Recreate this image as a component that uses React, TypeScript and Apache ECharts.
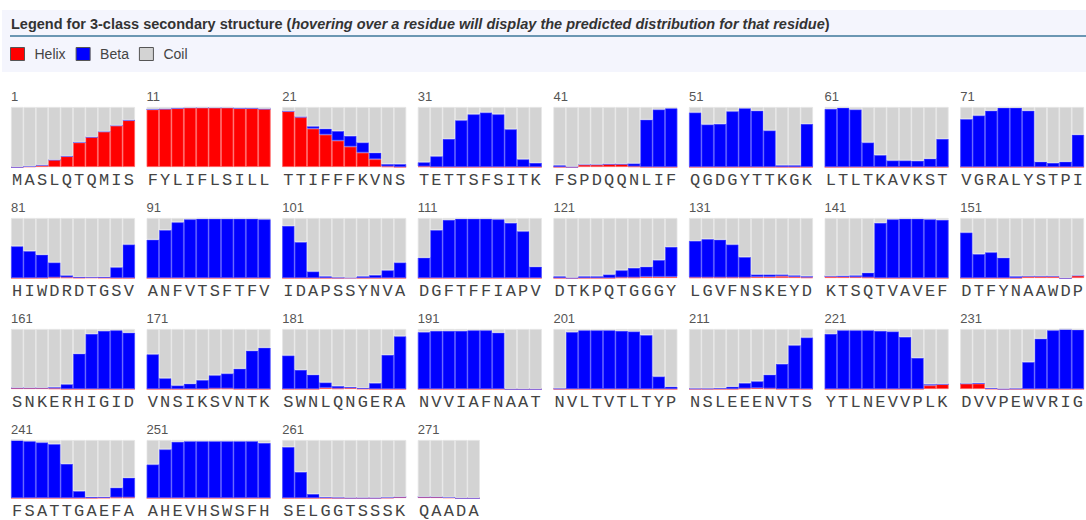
import { useEffect, useRef } from "react";
import * as echarts from "echarts";

const blockStarts = [1, 11, 21, 31, 41, 51, 61, 71, 81, 91, 101, 111, 121, 131, 141, 151, 161, 171, 181, 191, 201, 211, 221, 231, 241, 251, 261, 271];

const residues = [
  "MASLQTQMIS", "FYLIFLSILL", "TTIFFFKVNS", "TETTSFSITK", "FSPDQQNLIF", "QGDGYTTKGK", "LTLTKAVKST", "VGRALYSTPI",
  "HIWDRDTGSV", "ANFVTSFTFV", "IDAPSSYNVA", "DGFTFFIAPV", "DTKPQTGGGY", "LGVFNSKEYD", "KTSQTVAVEF", "DTFYNAAWDP",
  "SNKERHIGID", "VNSIKSVNTK", "SWNLQNGERA", "NVVIAFNAAT", "NVLTVTLTYP", "NSLEEENVTS", "YTLNEVVPLK", "DVVPEWVRIG",
  "FSATTGAEFA", "AHEVHSWSFH", "SELGGTSSSK", "QAADA",
];

const helix = [
  [0, 0.01, 0.03, 0.12, 0.18, 0.41, 0.5, 0.59, 0.69, 0.78],
  [0.96, 0.97, 0.98, 0.99, 0.99, 0.99, 0.99, 0.98, 0.98, 0.97],
  [0.93, 0.83, 0.64, 0.54, 0.44, 0.34, 0.24, 0.13, 0.01, 0],
  [0.01, 0, 0, 0, 0, 0, 0, 0, 0, 0],
  [0, 0, 0.04, 0.04, 0.05, 0.05, 0.01, 0, 0, 0],
  [0, 0, 0, 0, 0, 0, 0, 0, 0, 0],
  [0, 0, 0, 0, 0, 0, 0, 0, 0, 0],
  [0, 0, 0, 0, 0, 0, 0, 0, 0, 0],
  [0, 0, 0, 0.01, 0.01, 0.005, 0.01, 0.005, 0, 0],
  [0, 0, 0, 0, 0, 0, 0, 0, 0, 0],
  [0, 0, 0, 0, 0, 0.005, 0, 0, 0, 0],
  [0, 0, 0, 0, 0, 0, 0, 0, 0, 0],
  [0, 0, 0, 0, 0, 0.01, 0.01, 0.02, 0.02, 0.02],
  [0.01, 0.01, 0.01, 0.01, 0.01, 0.02, 0.02, 0.03, 0.02, 0.01],
  [0.03, 0.02, 0.015, 0.01, 0, 0, 0, 0, 0, 0],
  [0, 0, 0, 0, 0, 0.03, 0.03, 0.03, 0, 0.04],
  [0.02, 0.02, 0.02, 0.01, 0, 0, 0, 0, 0, 0],
  [0, 0, 0, 0, 0, 0.01, 0.01, 0, 0, 0],
  [0, 0, 0, 0.02, 0.01, 0.015, 0.005, 0, 0, 0],
  [0, 0, 0, 0, 0, 0, 0, 0, 0, 0],
  [0, 0, 0, 0, 0, 0, 0, 0, 0, 0],
  [0, 0, 0, 0, 0.01, 0.015, 0.01, 0, 0, 0],
  [0, 0, 0, 0, 0, 0, 0, 0, 0.06, 0.08],
  [0.09, 0.09, 0.005, 0, 0, 0, 0, 0, 0, 0],
  [0, 0, 0, 0, 0, 0, 0, 0.005, 0.01, 0.01],
  [0, 0, 0, 0, 0, 0, 0, 0, 0, 0],
  [0, 0, 0, 0, 0, 0, 0, 0, 0.005, 0.02],
  [0.02, 0.02, 0.01, 0, 0],
];

const beta = [
  [0, 0, 0, 0, 0, 0, 0, 0, 0, 0],
  [0, 0, 0, 0, 0, 0, 0, 0, 0, 0],
  [0, 0.01, 0.04, 0.1, 0.16, 0.18, 0.17, 0.11, 0.04, 0.05],
  [0.07, 0.18, 0.47, 0.78, 0.88, 0.91, 0.88, 0.63, 0.13, 0.07],
  [0.03, 0.005, 0, 0, 0, 0, 0.05, 0.79, 0.96, 0.98],
  [0.91, 0.71, 0.72, 0.93, 0.98, 0.94, 0.61, 0.03, 0.03, 0.72],
  [0.97, 0.99, 0.96, 0.41, 0.2, 0.11, 0.11, 0.105, 0.14, 0.47],
  [0.8, 0.86, 0.94, 0.99, 0.99, 0.94, 0.09, 0.07, 0.09, 0.54],
  [0.53, 0.45, 0.39, 0.25, 0.035, 0.015, 0.005, 0.015, 0.18, 0.56],
  [0.64, 0.8, 0.93, 0.98, 0.99, 0.99, 0.99, 0.99, 0.99, 0.98],
  [0.87, 0.6, 0.11, 0.03, 0.01, 0, 0.03, 0.05, 0.13, 0.26],
  [0.34, 0.8, 0.97, 0.99, 0.99, 0.99, 0.98, 0.92, 0.78, 0.19],
  [0.03, 0.005, 0.03, 0.03, 0.06, 0.12, 0.16, 0.17, 0.28, 0.5],
  [0.61, 0.64, 0.63, 0.55, 0.34, 0.04, 0.04, 0.03, 0.025, 0.02],
  [0, 0.02, 0.03, 0.08, 0.92, 0.98, 0.99, 0.99, 0.98, 0.97],
  [0.76, 0.4, 0.43, 0.34, 0.03, 0, 0, 0, 0, 0],
  [0, 0, 0, 0.02, 0.08, 0.59, 0.92, 0.97, 0.98, 0.94],
  [0.58, 0.18, 0.06, 0.09, 0.15, 0.22, 0.25, 0.34, 0.64, 0.69],
  [0.56, 0.32, 0.24, 0.09, 0.04, 0.02, 0.015, 0.1, 0.57, 0.88],
  [0.95, 0.97, 0.97, 0.97, 0.98, 0.98, 0.94, 0, 0, 0],
  [0.01, 0.95, 0.98, 0.98, 0.98, 0.97, 0.96, 0.9, 0.21, 0.04],
  [0.01, 0.01, 0.015, 0.04, 0.09, 0.115, 0.23, 0.42, 0.73, 0.86],
  [0.92, 0.98, 0.98, 0.98, 0.97, 0.96, 0.87, 0.52, 0.02, 0],
  [0, 0.01, 0.01, 0.005, 0.01, 0.45, 0.84, 0.98, 1.0, 0.99],
  [1.0, 0.98, 0.96, 0.93, 0.59, 0.12, 0.02, 0.015, 0.17, 0.34],
  [0.58, 0.84, 0.97, 0.98, 0.98, 0.98, 0.98, 0.98, 0.98, 0.95],
  [0.88, 0.45, 0.07, 0.015, 0.01, 0.005, 0.005, 0.005, 0.005, 0],
  [0, 0, 0, 0, 0],
];

const classNames = ["Helix", "Beta", "Coil"];
const classColors: Record<string, string> = { Helix: "#ff0000", Beta: "#0000ff", Coil: "#d3d3d3" };
const classEdges: Record<string, string> = { Helix: "#ff5c5c", Beta: "#4848ff", Coil: "#e4e4e4" };

const titleMain = "Legend for 3-class secondary structure (";
const titleItalic = "hovering over a residue will display the predicted distribution for that residue";

export default function App() {
  const ref = useRef<HTMLDivElement>(null);
  useEffect(() => {
    const chart = echarts.init(ref.current!, null, { renderer: "svg" });
    const grids: any[] = [];
    const xAxes: any[] = [];
    const yAxes: any[] = [];
    const series: any[] = [];
    const numberLabels: any[] = [];
    const colStep = 135.6;
    const rowStep = 111;
    const barW = 12.4;
    residues.forEach((seq, i) => {
      const letters = seq.split("");
      const row = Math.floor(i / 8);
      const col = i % 8;
      const left = 11 + col * colStep;
      const top = 107 + row * rowStep;
      grids.push({ left, top, width: letters.length * barW, height: 60 });
      xAxes.push({
        type: "category",
        gridIndex: i,
        data: letters,
        axisTick: { show: false },
        axisLine: { show: false },
        axisLabel: {
          interval: 0,
          margin: 5,
          fontFamily: "'Courier New', 'Liberation Mono', monospace",
          fontSize: 17,
          color: "#444",
        },
      });
      yAxes.push({ type: "value", gridIndex: i, min: 0, max: 1, show: false });
      const h = helix[i];
      const b = beta[i];
      const c = h.map((v, k) => Math.max(0, +(1 - v - b[k]).toFixed(3)));
      const dataByClass: Record<string, number[]> = { Helix: h, Beta: b, Coil: c };
      classNames.forEach((name) => {
        series.push({
          type: "bar",
          name,
          xAxisIndex: i,
          yAxisIndex: i,
          stack: "s" + i,
          data: dataByClass[name],
          barCategoryGap: "0%",
          itemStyle: { color: classColors[name], borderColor: classEdges[name], borderWidth: 0.8 },
        });
      });
      numberLabels.push({
        type: "text",
        x: left,
        y: top - 11,
        style: { text: String(blockStarts[i]), fill: "#555", font: "13px Arial", verticalAlign: "middle" },
      });
    });

    chart.setOption({
      animation: false,
      backgroundColor: "#ffffff",
      legend: {
        data: classNames.map((n) => ({ name: n, itemStyle: { color: classColors[n] } })),
        left: 5,
        top: 42,
        icon: "rect",
        itemWidth: 14,
        itemHeight: 13,
        itemGap: 10,
        selectedMode: false,
        itemStyle: { borderColor: "#555", borderWidth: 1 },
        textStyle: { fontSize: 14, color: "#444", fontFamily: "Arial", padding: [0, 0, 0, 5] },
      },
      grid: grids,
      xAxis: xAxes,
      yAxis: yAxes,
      series,
      graphic: [
        {
          type: "rect",
          z: -10,
          shape: { x: 2, y: 10, width: 1084, height: 62 },
          style: { fill: "#f4f5fd" },
        },
        {
          type: "line",
          shape: { x1: 10, y1: 36, x2: 1086, y2: 36 },
          style: { stroke: "#6b97b3", lineWidth: 2 },
        },
        {
          type: "text",
          x: 11,
          y: 24,
          style: {
            text: "{a|" + titleMain + "}{b|" + titleItalic + "}{a|)}",
            verticalAlign: "middle",
            rich: {
              a: { fontSize: 14.5, fontWeight: "bold", fontFamily: "Arial", fill: "#333" },
              b: { fontSize: 14.5, fontWeight: "bold", fontStyle: "italic", fontFamily: "Arial", fill: "#333" },
            },
          },
        },
        ...numberLabels,
      ],
    });
    return () => chart.dispose();
  }, []);
  return <div ref={ref} style={{ position: "fixed", left: 0, top: 0, width: 1086, height: 520 }} />;
}
